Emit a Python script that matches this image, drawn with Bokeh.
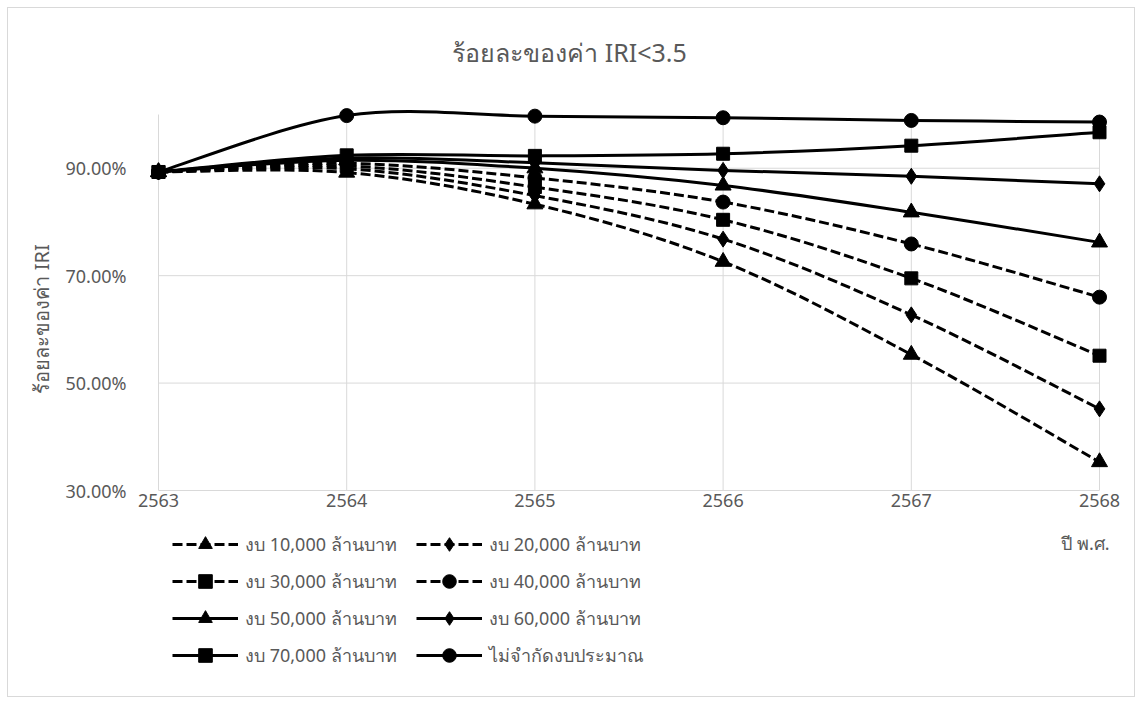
import math
from bokeh.plotting import figure
from bokeh.layouts import column
from bokeh.models import (Range1d, FixedTicker, PrintfTickFormatter, Legend,
                          LegendItem, Label, Title)
from bokeh.embed import file_html
from bokeh.resources import INLINE

# ---------------- data ----------------
years = [2563, 2564, 2565, 2566, 2567, 2568]
budget_10k = [89.3, 89.2, 83.3, 72.6, 55.3, 35.3]
budget_20k = [89.3, 89.9, 84.9, 76.8, 62.7, 45.2]
budget_30k = [89.3, 90.4, 86.5, 80.4, 69.5, 55.1]
budget_40k = [89.3, 90.9, 88.2, 83.7, 75.9, 66.0]
budget_50k = [89.3, 91.5, 90.0, 86.8, 81.8, 76.2]
budget_60k = [89.3, 91.9, 91.0, 89.6, 88.5, 87.1]
budget_70k = [89.3, 92.4, 92.3, 92.7, 94.2, 96.7]
unlimited = [89.3, 99.8, 99.7, 99.4, 98.9, 98.6]

series_labels = ["งบ 10,000 ล้านบาท", "งบ 20,000 ล้านบาท", "งบ 30,000 ล้านบาท",
                 "งบ 40,000 ล้านบาท", "งบ 50,000 ล้านบาท", "งบ 60,000 ล้านบาท",
                 "งบ 70,000 ล้านบาท", "ไม่จำกัดงบประมาณ"]
series_values = [budget_10k, budget_20k, budget_30k, budget_40k,
                 budget_50k, budget_60k, budget_70k, unlimited]
series_markers = ["triangle", "diamond", "square", "circle",
                  "triangle", "diamond", "square", "circle"]
series_dashed = [True, True, True, True, False, False, False, False]

y_ticks = [30, 50, 70, 90]
Y_MIN, Y_MAX = 30, 100
title_text = "ร้อยละของค่า IRI<3.5"
y_title = "ร้อยละของค่า IRI"
x_title = "ปี พ.ศ."

# ---------------- style ----------------
FONT = "Noto Sans"
TEXT = "#595959"
GRID = "#D9D9D9"
marker_sizes = {"triangle": 16, "diamond": 16, "square": 13, "circle": 14}
DASH = "10 4"

PX_YEAR = 188.2      # pixels per year
PX_PCT = 5.371       # pixels per percent
pad_x = 13 / PX_YEAR
y_top = Y_MIN + 470 / PX_PCT

W = 1126
MAIN_H = 514
LEG_H = 174

x_range = Range1d(years[0] - pad_x, years[-1] + pad_x)

p = figure(width=W, height=MAIN_H, output_backend="svg", toolbar_location=None,
           x_range=x_range, y_range=Range1d(Y_MIN, y_top),
           min_border_left=137, min_border_right=22,
           min_border_top=12, min_border_bottom=MAIN_H - 482)
p.outline_line_color = None
p.xgrid.visible = False
p.ygrid.visible = False

# grid lines bounded to the data area
p.segment(x0=years, x1=years, y0=[Y_MIN] * len(years), y1=[Y_MAX] * len(years),
          line_color=GRID, line_width=1)
hy = [t for t in y_ticks if t > Y_MIN]
p.segment(x0=[years[0]] * len(hy), x1=[years[-1]] * len(hy), y0=hy, y1=hy,
          line_color=GRID, line_width=1)

# axes
p.xaxis.ticker = FixedTicker(ticks=years)
p.xaxis.bounds = (years[0], years[-1])
p.xaxis.axis_line_color = GRID
p.xaxis.major_tick_line_color = None
p.xaxis.minor_tick_line_color = None
p.xaxis.major_tick_out = 0
p.xaxis.major_tick_in = 0
p.xaxis.major_label_standoff = 3
p.yaxis.ticker = FixedTicker(ticks=y_ticks)
p.yaxis.formatter = PrintfTickFormatter(format="%.2f%%")
p.yaxis.axis_line_color = None
p.yaxis.major_tick_line_color = None
p.yaxis.minor_tick_line_color = None
p.yaxis.major_tick_out = 0
p.yaxis.major_tick_in = 0
p.yaxis.major_label_standoff = 19
for ax in (p.xaxis, p.yaxis):
    ax.major_label_text_font = FONT
    ax.major_label_text_font_size = "18px"
    ax.major_label_text_color = TEXT

p.add_layout(Title(text=y_title, align="left", offset=97, standoff=15,
                   text_font=FONT, text_font_size="20px",
                   text_font_style="normal", text_color=TEXT), "left")

p.add_layout(Label(x=years[0] + (569 - 158) / PX_YEAR, y=Y_MIN + (490 - 51) / PX_PCT,
                   text=title_text, text_font=FONT, text_font_size="25px",
                   text_color=TEXT, text_align="center", text_baseline="middle"))


def smooth(xs, ys):
    n = len(xs)
    out = {k: [] for k in ("x0", "y0", "x1", "y1", "cx0", "cy0", "cx1", "cy1")}
    for i in range(n - 1):
        a = i - 1 if i > 0 else i
        d = i + 2 if i + 2 < n else i + 1
        out["x0"].append(xs[i]); out["y0"].append(ys[i])
        out["x1"].append(xs[i + 1]); out["y1"].append(ys[i + 1])
        out["cx0"].append(xs[i] + (xs[i + 1] - xs[a]) / 6)
        out["cy0"].append(ys[i] + (ys[i + 1] - ys[a]) / 6)
        out["cx1"].append(xs[i + 1] - (xs[d] - xs[i]) / 6)
        out["cy1"].append(ys[i + 1] - (ys[d] - ys[i]) / 6)
    return out


# ---------------- legend panel (shares the x scale) ----------------
p2 = figure(width=W, height=LEG_H, output_backend="svg", toolbar_location=None,
            x_range=x_range, y_range=Range1d(0, LEG_H),
            x_axis_type=None, y_axis_type=None, min_border=0,
            min_border_left=137, min_border_right=22)
p2.outline_line_color = None

NAN = float("nan")
items = []
for label, vals, mk, dashed in zip(series_labels, series_values,
                                   series_markers, series_dashed):
    seg = smooth(years, vals)
    dash = DASH if dashed else "solid"
    p.bezier(**seg, line_color="black", line_width=3, line_dash=dash)
    p.scatter(years, vals, marker=mk, size=marker_sizes[mk],
              fill_color="black", line_color="black")
    # legend proxies (nothing drawn in the panel: NaN positions)
    e = {k: [NAN] for k in seg}
    l1 = p2.bezier(**e, line_color="black", line_width=3, line_dash=dash)
    l2 = p2.scatter(x=[NAN], y=[NAN], marker=mk, fill_color="black",
                    line_color="black")
    items.append(LegendItem(label=label, renderers=[l1, l2]))

legend = Legend(items=items, location=(27, 24), orientation="horizontal",
                ncols=2, glyph_width=66, glyph_height=34, label_height=34,
                label_width=168, label_standoff=7, spacing=3, padding=0,
                margin=0, border_line_alpha=0, background_fill_alpha=0,
                label_text_font=FONT, label_text_font_size="18px",
                label_text_color=TEXT)
p2.add_layout(legend)

p2.add_layout(Label(x=years[-1], x_offset=-14, y=LEG_H - 20, text=x_title,
                    text_font=FONT, text_font_size="18px", text_color=TEXT,
                    text_align="center", text_baseline="middle"))

layout = column(p, p2, spacing=0,
                styles={"border": "1px solid #D9D9D9", "margin": "7px 0 0 7px"})

open("out.html", "w").write(file_html(layout, INLINE))
